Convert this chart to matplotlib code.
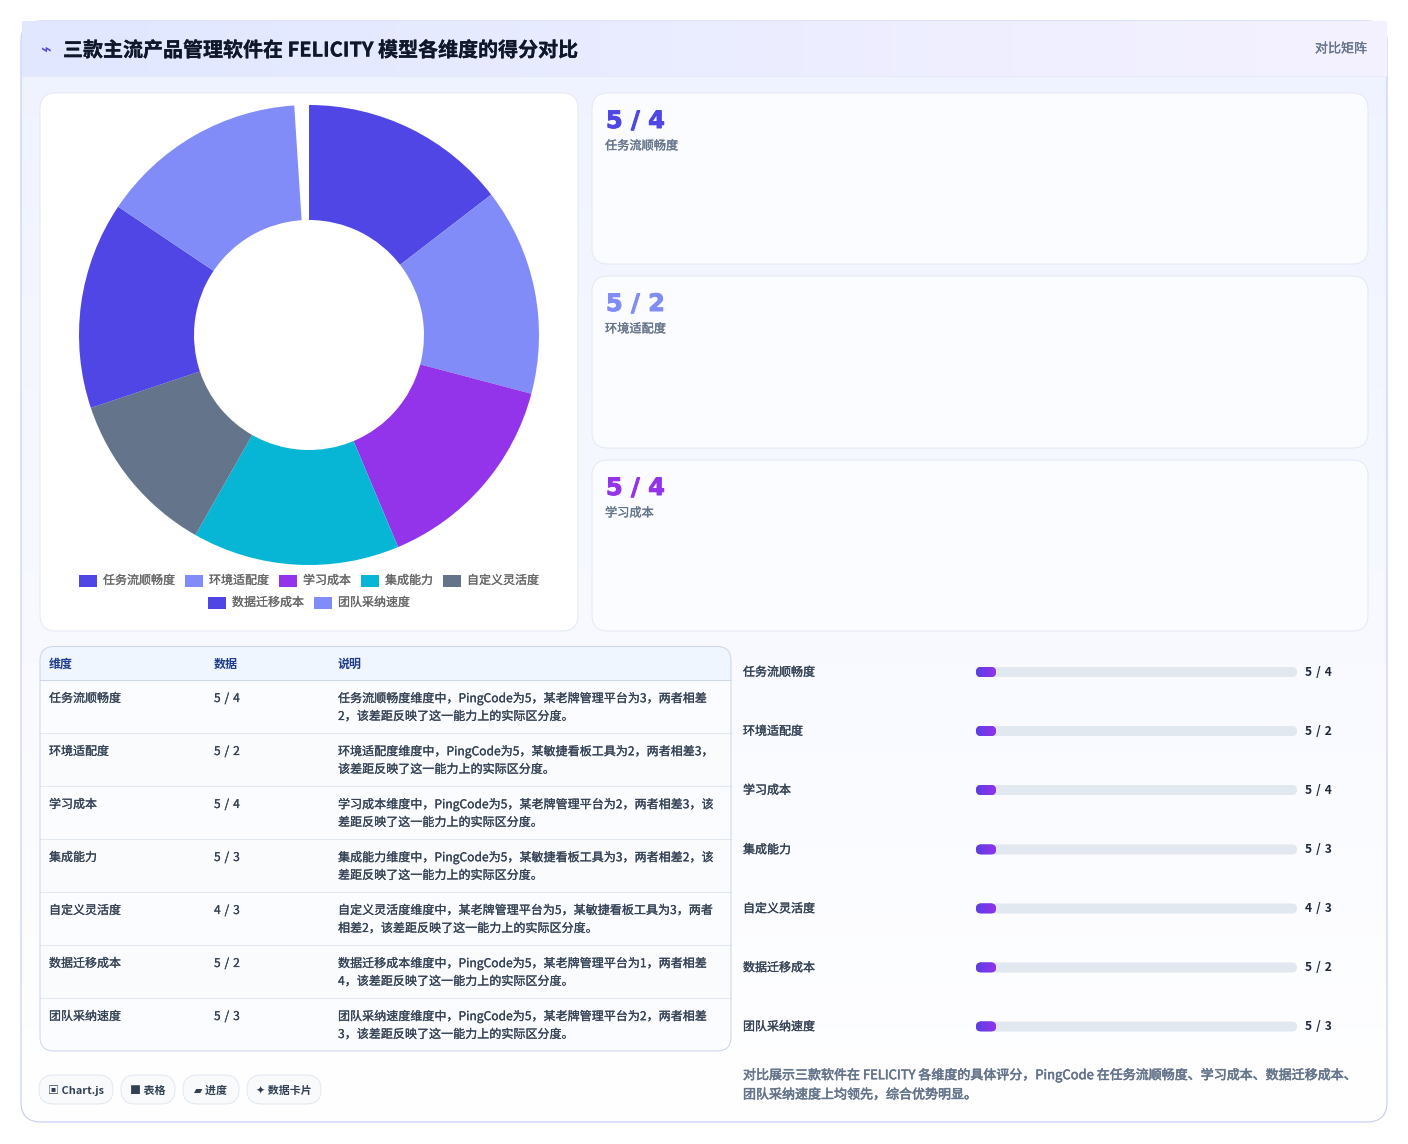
import matplotlib
matplotlib.use("Agg")
import matplotlib.pyplot as plt
import matplotlib.patheffects as pe
import numpy as np
from matplotlib.patches import FancyBboxPatch, Rectangle

plt.rcParams['font.family'] = ['Noto Sans CJK SC', 'DejaVu Sans']

W, H = 1408, 1144
PT = 0.72  # px -> pt at dpi 100
HAIR = 0.72  # 1px line

title = "三款主流产品管理软件在 FELICITY 模型各维度的得分对比"
tag = "对比矩阵"

dimensions = ["任务流顺畅度", "环境适配度", "学习成本", "集成能力", "自定义灵活度", "数据迁移成本", "团队采纳速度"]
score_a = [5, 5, 5, 5, 4, 5, 5]
score_b = [4, 2, 4, 3, 3, 2, 3]
slice_colors = ["#4f46e5", "#818cf8", "#9333ea", "#06b6d4", "#64748b", "#4f46e5", "#818cf8"]
degrees_per_point = 10.48

kpi_idx = [0, 1, 2]
kpi_colors = ["#4f46e5", "#818cf8", "#9333ea"]

notes = [
    ["任务流顺畅度维度中，PingCode为5，某老牌管理平台为3，两者相差", "2，该差距反映了这一能力上的实际区分度。"],
    ["环境适配度维度中，PingCode为5，某敏捷看板工具为2，两者相差3，", "该差距反映了这一能力上的实际区分度。"],
    ["学习成本维度中，PingCode为5，某老牌管理平台为2，两者相差3，该", "差距反映了这一能力上的实际区分度。"],
    ["集成能力维度中，PingCode为5，某敏捷看板工具为3，两者相差2，该", "差距反映了这一能力上的实际区分度。"],
    ["自定义灵活度维度中，某老牌管理平台为5，某敏捷看板工具为3，两者", "相差2，该差距反映了这一能力上的实际区分度。"],
    ["数据迁移成本维度中，PingCode为5，某老牌管理平台为1，两者相差", "4，该差距反映了这一能力上的实际区分度。"],
    ["团队采纳速度维度中，PingCode为5，某老牌管理平台为2，两者相差", "3，该差距反映了这一能力上的实际区分度。"],
]
headers = ["维度", "数据", "说明"]
chips = ["▣ Chart.js", "■ 表格", "▰ 进度", "✦ 数据卡片"]
summary = [
    "对比展示三款软件在 FELICITY 各维度的具体评分，PingCode 在任务流顺畅度、学习成本、数据迁移成本、",
    "团队采纳速度上均领先，综合优势明显。",
]


def round_box(ax, x0, y0, x1, y1, r, fc, ec="none", lw=HAIR, z=1, alpha=None):
    box = FancyBboxPatch((x0 + r, y0 + r), x1 - x0 - 2 * r, y1 - y0 - 2 * r,
                         boxstyle=f"round,pad={r},rounding_size={r}",
                         fc=fc, ec=ec, lw=lw, zorder=z, alpha=alpha)
    ax.add_patch(box)
    return box


def gradient(ax, x0, y0, x1, y1, c0, c1, clip=None, horizontal=False, z=2):
    c0 = np.array(matplotlib.colors.to_rgb(c0))
    c1 = np.array(matplotlib.colors.to_rgb(c1))
    t = np.linspace(0, 1, 256)
    g = c0[None, :] + (c1 - c0)[None, :] * t[:, None]
    g = g[None, :, :] if horizontal else g[:, None, :]
    im = ax.imshow(g, extent=(x0, x1, y1, y0), aspect="auto", zorder=z, interpolation="bilinear")
    if clip is not None:
        im.set_clip_path(clip)
    return im


def put(ax, x, y, s, size, color, weight="normal", ha="left", va="center", z=10, heft=0):
    t = ax.text(x, y, s, fontsize=size * PT, color=color, fontweight=weight, ha=ha, va=va, zorder=z)
    if heft:
        t.set_path_effects([pe.withStroke(linewidth=heft, foreground=color)])
    return t


def score_text(a, b):
    return f"{a}\u200a / \u200a{b}"


fig = plt.figure(figsize=(W / 100, H / 100), dpi=100, facecolor="white")
ax = fig.add_axes([0, 0, 1, 1])
ax.set_xlim(0, W)
ax.set_ylim(H, 0)
ax.axis("off")

# soft shadow under the main card
for grow in range(0, 38):
    round_box(ax, 21 - grow, 21 + 22 - grow, 1387 + grow, 1122 + 4 + grow, 22 + grow,
              "#334155", z=0.5, alpha=0.0017)
ax.plot([0, W], [1143.5, 1143.5], color="#eef0f7", lw=HAIR, zorder=0.6)

# main card
card = round_box(ax, 21, 21, 1387, 1122, 20, "white", z=1)
gradient(ax, 21, 21, 1387, 1122, "#eff3ff", "#ffffff", clip=card, z=1.5)
round_box(ax, 21, 21, 1387, 1122, 20, "none", "#c7d2f6", 0.9, z=1.8)

# header band, square corners poke over the rounded card
gradient(ax, 21.5, 21.5, 1386.5, 76, "#e0e7ff", "#f5f2ff", horizontal=True, z=2)
ax.set_xlim(0, W)
ax.set_ylim(H, 0)
ax.plot([21, 1387], [75.5, 75.5], color="#e4e9fa", lw=HAIR, zorder=3)
put(ax, 41, 50, "⌁", 18, "#4f46e5", "bold")
put(ax, 63, 50, title, 20, "#0f172a", "bold", heft=0.2)
put(ax, 1367, 49, tag, 13, "#64748b", ha="right", heft=0.2)

# chart panel
round_box(ax, 40, 93, 578, 631, 16, "white", "#e4e9f5", z=3)

# kpi cards
kpi_tops = [93, 276, 460]
kpi_bots = [264, 448, 631]
for k, i in enumerate(kpi_idx):
    top, bot = kpi_tops[k], kpi_bots[k]
    round_box(ax, 592, top, 1368, bot, 16, "#fbfcff", "#e4e9f5", z=3)
    t = ax.text(606, top + 28, f"{score_a[i]} / {score_b[i]}", fontsize=24 * PT, color=kpi_colors[k],
                fontweight="bold", family="DejaVu Sans", ha="left", va="center", zorder=10)
    t.set_path_effects([pe.withStroke(linewidth=0.7, foreground=kpi_colors[k])])
    put(ax, 605, top + 53, dimensions[i], 12.2, "#64748b", heft=0.2)

# legend of the ring, two centred rows
legend_rows = [(0, 5, 580), (5, 7, 602)]
legend_x = [79, 185, 279, 361, 443, 208, 314]
for start, stop, y in legend_rows:
    for i in range(start, stop):
        ax.add_patch(Rectangle((legend_x[i], y - 5), 18, 12, fc=slice_colors[i], ec="none", zorder=6))
        put(ax, legend_x[i] + 24, y + 0.5, dimensions[i], 12, "#666666", heft=0.15)

# table
table_box = round_box(ax, 40, 646.5, 731, 1051, 14, "#fbfcff", z=3)
head = Rectangle((40, 646.5), 691, 33, fc="#eff6ff", ec="none", zorder=3.5)
ax.add_patch(head)
head.set_clip_path(table_box)
ax.plot([40, 731], [679.5, 679.5], color="#cfd8ea", lw=HAIR, zorder=4)
col_x = [49, 214, 338]
for x, s in zip(col_x, headers):
    put(ax, x, 664, s, 12, "#1e3a8a", "bold")
row_h = 53
for i, name in enumerate(dimensions):
    y0 = 680 + i * row_h
    if i % 2 == 1:
        band = Rectangle((40, y0), 691, row_h, fc="#f9fbfd", ec="none", zorder=3.4)
        ax.add_patch(band)
        band.set_clip_path(table_box)
    if i > 0:
        ax.plot([40, 731], [y0 - 0.5, y0 - 0.5], color="#e2e8f0", lw=HAIR, zorder=4)
    put(ax, col_x[0], y0 + 18.5, name, 12, "#334155", heft=0.15)
    put(ax, col_x[1], y0 + 18.5, score_text(score_a[i], score_b[i]), 12, "#334155", heft=0.15)
    put(ax, col_x[2], y0 + 18.5, notes[i][0], 12.05, "#334155", heft=0.15)
    put(ax, col_x[2], y0 + 36.5, notes[i][1], 12.05, "#334155", heft=0.15)
round_box(ax, 40, 646.5, 731, 1051, 14, "none", "#ccd5e8", z=4.5)

# progress list
bar_ys = [672, 731, 790, 849.5, 908.5, 967.5, 1026.5]
track_x0, track_x1 = 976, 1297
for i, name in enumerate(dimensions):
    y = bar_ys[i]
    put(ax, 743, y + 0.3, name, 12, "#334155", heft=0.2)
    round_box(ax, track_x0, y - 5, track_x1, y + 5, 5, "#e2e8f0", z=4)
    fill = round_box(ax, track_x0, y - 5, track_x0 + 20, y + 5, 5, "#6d3be8", z=5)
    gradient(ax, track_x0, y - 5, track_x0 + 20, y + 5, "#5b3fe6", "#9333ea", clip=fill, horizontal=True, z=6)
    ax.set_xlim(0, W)
    ax.set_ylim(H, 0)
    put(ax, 1305, y + 0.3, score_text(score_a[i], score_b[i]), 12, "#1e293b", "bold")

# chips
chip_x = [(39, 113), (121, 175), (183, 239), (247, 321)]
for (x0, x1), s in zip(chip_x, chips):
    round_box(ax, x0, 1075, x1, 1104, 14.5, "#f8fafc", "#e2e8f0", z=4)
    ax.text((x0 + x1) / 2, 1090.5, s, fontsize=11 * PT, color="#334155", fontweight="bold",
            family=['Noto Sans CJK SC', 'DejaVu Sans'], ha="center", va="center", zorder=10)

# summary
put(ax, 743, 1075, summary[0], 13, "#64748b", heft=0.4)
put(ax, 743, 1095, summary[1], 13, "#64748b", heft=0.4)

# ring, centre (309, 335), outer radius 230, through the pie's own axes
R, CX, CY = 230, 309, 335
pie_ax = fig.add_axes([(CX - R) / W, 1 - (CY + R) / H, 2 * R / W, 2 * R / H], zorder=5)
sizes = np.array(score_a) * degrees_per_point / 360
pie_ax.pie(sizes, colors=slice_colors, startangle=90, counterclock=False, normalize=False, radius=1,
           wedgeprops=dict(width=0.5, edgecolor="none"))
pie_ax.set_xlim(-1, 1)
pie_ax.set_ylim(-1, 1)

fig.savefig("out.png", dpi=100)
